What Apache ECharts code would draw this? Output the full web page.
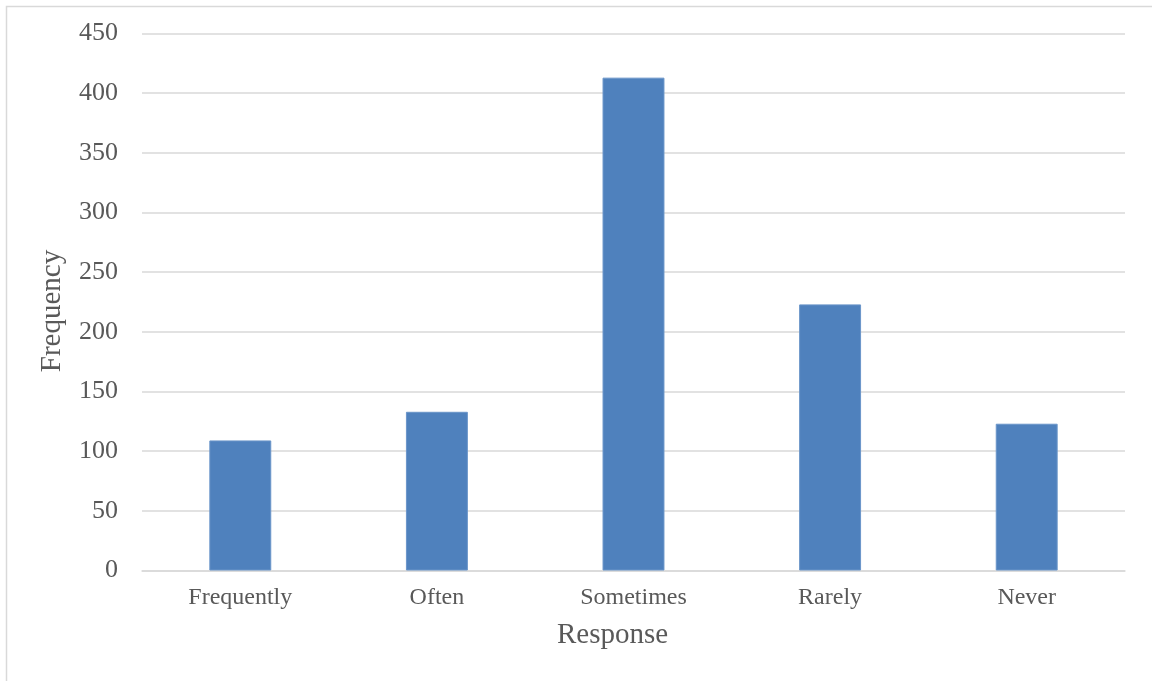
<!DOCTYPE html>
<html>
<head>
<meta charset="utf-8">
<script src="https://cdn.jsdelivr.net/npm/echarts@6/dist/echarts.min.js"></script>
<style>
  html, body { margin: 0; padding: 0; background: #fff; }
  #chart { width: 1152px; height: 681px; }
</style>
</head>
<body>
<div id="chart"></div>
<script>
// Survey responses and how often each was given
const categories = ['Frequently', 'Often', 'Sometimes', 'Rarely', 'Never'];
const frequency = [109, 133, 413, 223, 123];
const yTicks = { min: 0, max: 450, step: 50 };

const serif = '"Liberation Serif", "Times New Roman", serif';
const chart = echarts.init(document.getElementById('chart'), null, { renderer: 'canvas' });

chart.setOption({
  animation: false,
  backgroundColor: '#ffffff',
  graphic: [{
    type: 'rect',
    left: 4, top: 4,
    shape: { width: 1200, height: 720 },
    style: { fill: 'none', stroke: '#d9d9d9', lineWidth: 1.5 },
    silent: true
  }],
  grid: { left: 142, right: 27, top: 33.5, bottom: 110.5 },
  xAxis: {
    type: 'category',
    data: categories,
    name: 'Response',
    nameLocation: 'middle',
    nameGap: 50,
    nameTextStyle: { fontFamily: serif, fontSize: 29, color: '#595959', padding: [0, 42, 0, 0] },
    axisLine: { lineStyle: { color: '#d9d9d9', width: 1.5 } },
    axisTick: { show: false },
    axisLabel: { fontFamily: serif, fontSize: 24, color: '#595959', margin: 15 }
  },
  yAxis: {
    type: 'value',
    min: yTicks.min, max: yTicks.max, interval: yTicks.step,
    name: 'Frequency',
    nameLocation: 'middle',
    nameGap: 75,
    nameRotate: 90,
    nameTextStyle: { fontFamily: serif, fontSize: 29, color: '#595959', padding: [0, 18, 0, 0] },
    axisLine: { show: false },
    axisTick: { show: false },
    axisLabel: { fontFamily: serif, fontSize: 26, color: '#595959', margin: 24 },
    splitLine: { lineStyle: { color: '#d9d9d9', width: 1.5 } }
  },
  series: [{
    type: 'bar',
    data: frequency,
    barWidth: '31.5%',
    itemStyle: { color: '#4f81bd', borderColor: '#6a95c9', borderWidth: 1 }
  }]
});
</script>
</body>
</html>
